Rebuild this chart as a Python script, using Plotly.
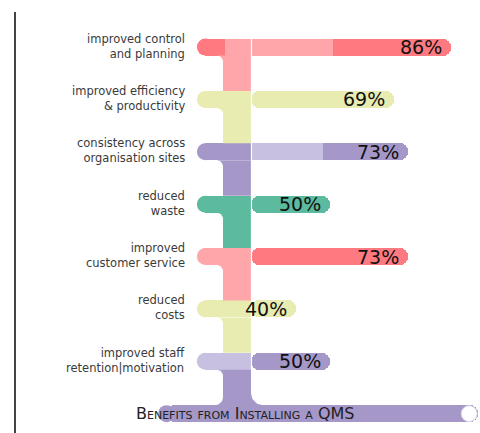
import numpy as np
import plotly.graph_objects as go

# ---------------- data ----------------
labels = [
    "improved control<br>and planning",
    "improved efficiency<br>& productivity",
    "consistency across<br>organisation sites",
    "reduced<br>waste",
    "improved<br>customer service",
    "reduced<br>costs",
    "improved staff<br>retention|motivation",
]
values = [86, 69, 73, 50, 73, 40, 50]
title_text = "Benefits from Installing a QMS"

main_colors = ["#ff7a80", "#e8ecb1", "#a598c9", "#5cba9f", "#ff7a80", "#e8ecb1", "#a598c9"]
light_colors = ["#ffa6ab", "#e8ecb1", "#c7c0e0", "#5cba9f", "#ffa6ab", "#e8ecb1", "#c7c0e0"]
left_colors = [main_colors[0], main_colors[1], main_colors[2], main_colors[3],
               light_colors[4], light_colors[5], light_colors[6]]
stem_colors = [light_colors[0], light_colors[1], main_colors[2], main_colors[3],
               light_colors[4], light_colors[5], main_colors[6]]

# ---------------- geometry (style constants, in axis units) ----------------
PX_PER_UNIT = 3.37     # horizontal pixels per axis unit
ROW_PX = 52.35         # vertical pixels per row
BAR_PX = 17            # bar thickness in pixels
STEM_PX = 28           # stem width in pixels
BAR_W = BAR_PX / ROW_PX
CAP_R = BAR_PX / 2 / PX_PER_UNIT   # cap radius in axis units
BAR_LEFT = 10.5        # rounded left end of each bar
STEM_X = 22.4          # centre of the vertical stem
STEM_L = STEM_X - STEM_PX / 2 / PX_PER_UNIT
STEM_R = STEM_X + STEM_PX / 2 / PX_PER_UNIT
DIVIDER_X = 26.7       # white divider / split between light and dark parts
LABEL_X = 7.6          # right edge of category labels
AXIS_LEFT, AXIS_RIGHT = -1.0, 94.0   # bottom "axis" bar extent
overlay_rows = {0: (18.8, 51.0), 2: (26.9, 48.0)}

n = len(values)
rows = list(range(n))
bottom_row = n


def fillet(cx_corner, cy_corner, sx, sy, r_px):
    """Concave fillet polygon at a corner; sx/sy point towards the open (white) side."""
    rx = r_px / PX_PER_UNIT
    ry = r_px / ROW_PX
    cx, cy = cx_corner + sx * rx, cy_corner + sy * ry
    t = np.linspace(0, np.pi / 2, 12)
    ax = cx - sx * rx * np.sin(t)
    ay = cy - sy * ry * np.cos(t)
    xs = list(ax) + [cx_corner, ax[0]]
    ys = list(ay) + [cy_corner, ay[0]]
    return xs, ys


fig = go.Figure()

# left parts of bars (square; round cap added as marker)
fig.add_trace(go.Bar(
    orientation="h", y=rows, x=[DIVIDER_X - (BAR_LEFT + CAP_R)] * n,
    base=[BAR_LEFT + CAP_R] * n,
    width=BAR_W, marker=dict(color=left_colors, line=dict(width=0)),
    hoverinfo="skip", showlegend=False))

# right parts of bars (value end, rounded)
fig.add_trace(go.Bar(
    orientation="h", y=rows, x=[v - DIVIDER_X for v in values], base=[DIVIDER_X] * n,
    width=BAR_W, marker=dict(color=main_colors, cornerradius="50%", line=dict(width=0)),
    hoverinfo="skip", showlegend=False))

# light highlight segments
ov_rows = list(overlay_rows.keys())
fig.add_trace(go.Bar(
    orientation="h", y=ov_rows,
    x=[overlay_rows[r][1] - overlay_rows[r][0] for r in ov_rows],
    base=[overlay_rows[r][0] for r in ov_rows],
    width=BAR_W, marker=dict(color=[light_colors[r] for r in ov_rows], line=dict(width=0)),
    hoverinfo="skip", showlegend=False))

# bottom axis bar (rounded right end)
fig.add_trace(go.Bar(
    orientation="h", y=[bottom_row], x=[AXIS_RIGHT - (AXIS_LEFT + CAP_R)],
    base=[AXIS_LEFT + CAP_R],
    width=BAR_W, marker=dict(color=main_colors[6], cornerradius="50%", line=dict(width=0)),
    hoverinfo="skip", showlegend=False))

# vertical stem segments
for i in rows:
    fig.add_trace(go.Scatter(
        x=[STEM_X, STEM_X], y=[i + BAR_W / 2, i + 1 - BAR_W / 2],
        mode="lines", line=dict(color=stem_colors[i], width=STEM_PX),
        hoverinfo="skip", showlegend=False))

# fillets where bars meet the stem (left side, below each bar)
for i in rows:
    fx, fy = fillet(STEM_L, i + BAR_W / 2, -1, 1, 6)
    fig.add_trace(go.Scatter(
        x=fx, y=fy, mode="lines", fill="toself", fillcolor=stem_colors[i],
        line=dict(width=0, color=stem_colors[i]), hoverinfo="skip", showlegend=False))

# fillets where the stem meets the bottom axis bar
for corner_x, sx, r in ((STEM_L, -1, 8), (STEM_R, 1, 12)):
    fx, fy = fillet(corner_x, bottom_row - BAR_W / 2, sx, -1, r)
    fig.add_trace(go.Scatter(
        x=fx, y=fy, mode="lines", fill="toself", fillcolor=main_colors[6],
        line=dict(width=0, color=main_colors[6]), hoverinfo="skip", showlegend=False))

# round left caps of bars and of the axis bar
fig.add_trace(go.Scatter(
    x=[BAR_LEFT + CAP_R] * n + [AXIS_LEFT + CAP_R], y=rows + [bottom_row],
    mode="markers",
    marker=dict(size=BAR_PX, color=left_colors + [main_colors[6]], line=dict(width=0)),
    hoverinfo="skip", showlegend=False))

# white divider
fig.add_trace(go.Scatter(
    x=[DIVIDER_X, DIVIDER_X], y=[-BAR_W / 2, n - 1 + BAR_W / 2],
    mode="lines", line=dict(color="white", width=1.2),
    hoverinfo="skip", showlegend=False))

# white end circle on axis bar
fig.add_trace(go.Scatter(
    x=[AXIS_RIGHT - 2.7], y=[bottom_row], mode="markers",
    marker=dict(size=16, color="white", line=dict(color="#d9d4ea", width=1)),
    hoverinfo="skip", showlegend=False))

annotations = []
# category labels
for i, lab in enumerate(labels):
    annotations.append(dict(
        x=LABEL_X, y=i, xref="x", yref="y", text=lab, showarrow=False,
        xanchor="right", yanchor="middle", align="right", yshift=1,
        font=dict(family="DejaVu Sans", size=11.5, color="#3a3a3a")))

# value labels
for i, v in enumerate(values):
    annotations.append(dict(
        x=v, y=i, xref="x", yref="y", text=f"{v}%", showarrow=False,
        xanchor="right", yanchor="middle", xshift=-7, yshift=0,
        font=dict(family="DejaVu Sans", size=19, color="#111111")))

# bottom title
annotations.append(dict(
    x=25.0, y=bottom_row, xref="x", yref="y", text=title_text, showarrow=False,
    xanchor="center", yanchor="middle",
    font=dict(family="DejaVu Sans", size=16, color="#222222", variant="small-caps")))

fig.update_layout(
    width=480, height=433, autosize=False,
    margin=dict(l=0, r=0, t=0, b=0),
    paper_bgcolor="white", plot_bgcolor="white",
    barmode="overlay", bargap=0,
    showlegend=False,
    xaxis=dict(range=[-47.92, 94.51], visible=False, fixedrange=True),
    yaxis=dict(range=[7.37, -0.90], visible=False, fixedrange=True),
    annotations=annotations,
    shapes=[dict(type="line", xref="paper", yref="paper",
                 x0=15 / 480, x1=15 / 480, y0=0, y1=1 - 12 / 433,
                 line=dict(color="#444444", width=2))],
)

fig.write_html("out.html")
